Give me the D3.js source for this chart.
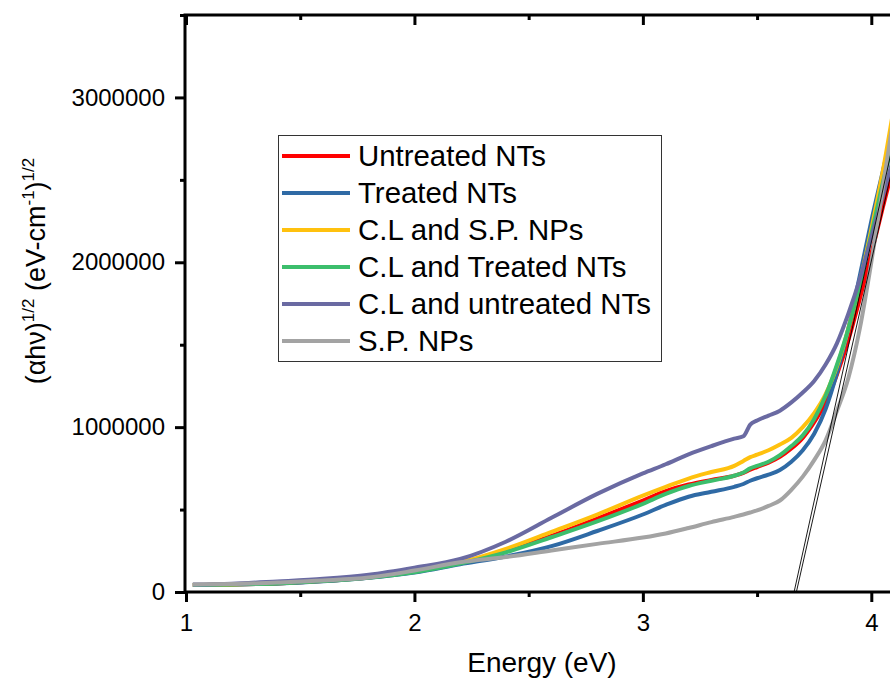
<!DOCTYPE html>
<html>
<head>
<meta charset="utf-8">
<script src="https://cdn.jsdelivr.net/npm/d3@7"></script>
<style>
  body { margin: 0; background: #fff; }
  text { font-family: Arial, "Liberation Sans", sans-serif; fill: #000; }
</style>
</head>
<body>
<svg id="chart" width="890" height="681"></svg>
<script>
// photon energy (eV)
var energy = [1.03, 1.2, 1.4, 1.6, 1.8, 2.0, 2.2, 2.4, 2.6, 2.8, 3.0, 3.1, 3.2, 3.3, 3.4,
  3.44, 3.47, 3.5, 3.55, 3.6, 3.65, 3.7, 3.75, 3.8, 3.85, 3.9, 3.95, 4.0, 4.05, 4.1];

// (alpha h nu)^1/2 for each sample
var untreatedNTs = [42000, 45000, 52000, 66000, 88000, 122000, 175000, 248000, 340000, 445000,
  555000, 612000, 652000, 680000, 705000, 722000, 742000, 758000, 785000, 820000,
  870000, 935000, 1030000, 1150000, 1320000, 1530000, 1780000, 2050000, 2330000, 2600000];
var treatedNTs = [42000, 45000, 52000, 65000, 86000, 118000, 168000, 215000, 278000, 370000,
  470000, 528000, 578000, 608000, 638000, 655000, 675000, 690000, 712000, 740000,
  790000, 860000, 960000, 1110000, 1330000, 1600000, 1920000, 2250000, 2550000, 2850000];
var clSpNPs = [42000, 46000, 55000, 70000, 92000, 128000, 180000, 262000, 365000, 470000,
  585000, 638000, 688000, 728000, 765000, 795000, 818000, 833000, 860000, 895000,
  935000, 1000000, 1085000, 1200000, 1370000, 1600000, 1880000, 2200000, 2550000, 2950000];
var clTreatedNTs = [42000, 45000, 52000, 66000, 87000, 120000, 172000, 240000, 332000, 428000,
  535000, 595000, 643000, 675000, 705000, 725000, 750000, 765000, 790000, 830000,
  885000, 950000, 1050000, 1190000, 1380000, 1600000, 1870000, 2170000, 2480000, 2760000];
var clUntreatedNTs = [45000, 50000, 64000, 80000, 105000, 148000, 200000, 305000, 450000, 595000,
  720000, 775000, 835000, 885000, 930000, 945000, 1015000, 1040000, 1070000, 1100000,
  1150000, 1210000, 1280000, 1380000, 1510000, 1690000, 1900000, 2150000, 2400000, 2650000];
var spNPs = [46000, 48000, 58000, 70000, 88000, 130000, 180000, 212000, 252000, 292000,
  330000, 355000, 388000, 424000, 456000, 470000, 482000, 495000, 522000, 555000,
  620000, 700000, 800000, 920000, 1100000, 1300000, 1600000, 2000000, 2450000, 2900000];

var seriesNames = ["Untreated NTs", "Treated NTs", "C.L and S.P. NPs",
  "C.L and Treated NTs", "C.L and untreated NTs", "S.P. NPs"];
var seriesValues = [untreatedNTs, treatedNTs, clSpNPs, clTreatedNTs, clUntreatedNTs, spNPs];
var seriesColors = ["#ff0000", "#2f6aa5", "#ffc10e", "#3cbe6c", "#6a6aa2", "#a3a3a3"];

// the two tangent (Tauc) lines drawn to the energy axis
var tangentA = [[3.662, 0], [4.1, 2750000]];
var tangentB = [[3.672, 0], [4.1, 2620000]];

var xTicks = [1, 2, 3, 4];
var xMinor = [1.5, 2.5, 3.5];
var yTicks = [0, 1000000, 2000000, 3000000];
var yMinor = [500000, 1500000, 2500000, 3500000];

function draw() {
  var svg = d3.select("#chart");

  var pLeft = 185, pRight = 900, pTop = 15, pBottom = 592;

  var x = d3.scaleLinear().domain([1, 4.13]).range([186, 901]);
  var y = d3.scaleLinear().domain([0, 3500000]).range([pBottom, pTop]);

  svg.append("clipPath").attr("id", "plotClip")
    .append("rect")
    .attr("x", pLeft).attr("y", pTop)
    .attr("width", pRight - pLeft).attr("height", pBottom - pTop);

  // curves
  var line = d3.line()
    .x(function(d) { return x(d[0]); })
    .y(function(d) { return y(d[1]); })
    .curve(d3.curveMonotoneX);

  var plot = svg.append("g").attr("clip-path", "url(#plotClip)");

  seriesValues.forEach(function(vals, i) {
    var pts = energy.map(function(e, j) { return [e, vals[j]]; });
    plot.append("path")
      .datum(pts)
      .attr("d", line)
      .attr("fill", "none")
      .attr("stroke", seriesColors[i])
      .attr("stroke-width", 4)
      .attr("stroke-linejoin", "round");
  });

  // tangent lines
  [tangentA, tangentB].forEach(function(t) {
    plot.append("path")
      .datum(t)
      .attr("d", d3.line().x(function(d) { return x(d[0]); }).y(function(d) { return y(d[1]); }))
      .attr("fill", "none")
      .attr("stroke", "#000")
      .attr("stroke-width", 0.9);
  });

  // axes
  var axisW = 3;
  var bottomAxis = d3.axisBottom(x).tickValues(xTicks).tickSize(10).tickFormat(d3.format("d"));
  var bottomMinor = d3.axisBottom(x).tickValues(xMinor).tickSize(5).tickFormat("");
  var topAxis = d3.axisBottom(x).tickValues(xTicks).tickSize(10).tickFormat("");
  var topMinor = d3.axisBottom(x).tickValues(xMinor).tickSize(5).tickFormat("");
  var leftAxis = d3.axisLeft(y).tickValues(yTicks).tickSize(10).tickFormat(d3.format("d"));
  var leftMinor = d3.axisLeft(y).tickValues(yMinor).tickSize(5).tickFormat("");
  var rightAxis = d3.axisLeft(y).tickValues(yTicks).tickSize(-11).tickFormat("");

  function styleAxis(g) {
    g.select(".domain").remove();
    g.selectAll(".tick line").attr("stroke", "#000").attr("stroke-width", axisW);
    g.selectAll(".tick text").style("font-size", "24px").attr("fill", "#000");
  }

  svg.append("g").attr("transform", "translate(0," + pBottom + ")").call(bottomAxis).call(styleAxis)
    .selectAll(".tick text").attr("y", 22).attr("dy", "0.71em");
  svg.append("g").attr("transform", "translate(0," + pBottom + ")").call(bottomMinor).call(styleAxis);
  svg.append("g").attr("transform", "translate(0," + pTop + ")").call(topAxis).call(styleAxis);
  svg.append("g").attr("transform", "translate(0," + pTop + ")").call(topMinor).call(styleAxis);
  svg.append("g").attr("transform", "translate(" + pLeft + ",0)").call(leftAxis).call(styleAxis)
    .selectAll(".tick text").attr("x", -20);
  svg.append("g").attr("transform", "translate(" + pLeft + ",0)").call(leftMinor).call(styleAxis);
  svg.append("g").attr("transform", "translate(" + pRight + ",0)").call(rightAxis).call(styleAxis);

  // frame
  svg.append("rect")
    .attr("x", pLeft).attr("y", pTop)
    .attr("width", pRight - pLeft).attr("height", pBottom - pTop)
    .attr("fill", "none").attr("stroke", "#000").attr("stroke-width", axisW);

  // axis titles
  svg.append("text")
    .attr("x", 542).attr("y", 672)
    .attr("text-anchor", "middle")
    .style("font-size", "28px")
    .text("Energy (eV)");

  var yTitle = svg.append("text")
    .attr("transform", "translate(45,271) rotate(-90)")
    .attr("text-anchor", "middle")
    .style("font-size", "27px");
  yTitle.append("tspan").text("(\u03b1h\u03bd)");
  yTitle.append("tspan").attr("dy", -11).style("font-size", "17px").text("1/2");
  yTitle.append("tspan").attr("dy", 11).text(" (eV-cm");
  yTitle.append("tspan").attr("dy", -11).style("font-size", "17px").text("-1");
  yTitle.append("tspan").attr("dy", 11).text(")");
  yTitle.append("tspan").attr("dy", -11).style("font-size", "17px").text("1/2");

  // legend
  var legend = svg.append("g");
  legend.append("rect")
    .attr("x", 278.5).attr("y", 135.5)
    .attr("width", 383).attr("height", 226)
    .attr("fill", "#fff").attr("stroke", "#333").attr("stroke-width", 1);

  var legendY = d3.scalePoint().domain(seriesNames).range([156, 341]);

  seriesNames.forEach(function(name, i) {
    var ly = legendY(name);
    legend.append("line")
      .attr("x1", 282).attr("x2", 350)
      .attr("y1", ly).attr("y2", ly)
      .attr("stroke", seriesColors[i]).attr("stroke-width", 4);
    legend.append("text")
      .attr("x", 358).attr("y", ly + 10)
      .style("font-size", "29.4px")
      .text(name);
  });
}

draw();
</script>
</body>
</html>
